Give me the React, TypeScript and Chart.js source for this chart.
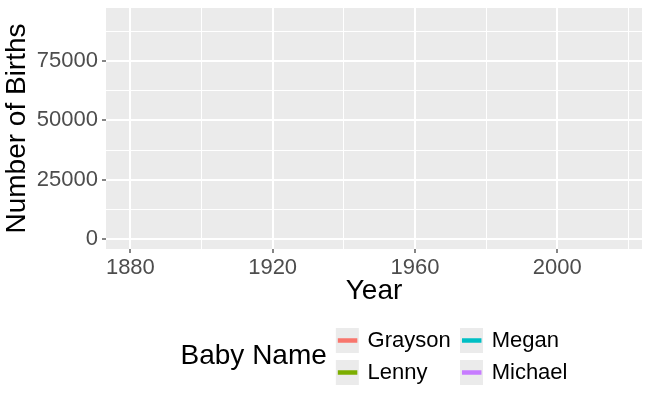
import React, { useEffect, useRef } from "react";
import { Chart, registerables } from "chart.js";

Chart.register(...registerables);

// ---- data (this frame shows no drawn lines yet) ----
const babyNames = ["Grayson", "Lenny", "Megan", "Michael"];
const nameColors = ["#F8766D", "#7CAE00", "#00BFC4", "#C77CFF"];
const graysonPoints: { x: number; y: number }[] = [];
const lennyPoints: { x: number; y: number }[] = [];
const meganPoints: { x: number; y: number }[] = [];
const michaelPoints: { x: number; y: number }[] = [];
const seriesPoints = [graysonPoints, lennyPoints, meganPoints, michaelPoints];

const xTickValues = [1880, 1900, 1920, 1940, 1960, 1980, 2000, 2020];
const xLabeledTicks = [1880, 1920, 1960, 2000];
const yTickValues = [0, 12500, 25000, 37500, 50000, 62500, 75000, 87500];
const yLabeledTicks = [0, 25000, 50000, 75000];
const xRange = [1873.15, 2023.85];
const yRange = [-4355, 97535];

const xTitle = "Year";
const yTitle = "Number of Births";
const legendTitle = "Baby Name";

const FONT = "'Liberation Sans', Arial, Helvetica, sans-serif";
const PANEL = "#EBEBEB";
const TICK_SIZE = 22;
const TITLE_SIZE = 28;

const panelBackground = {
  id: "panelBackground",
  beforeDraw(chart: any) {
    const { ctx, chartArea } = chart;
    ctx.save();
    ctx.fillStyle = PANEL;
    ctx.fillRect(chartArea.left, chartArea.top, chartArea.right - chartArea.left, chartArea.bottom - chartArea.top);
    ctx.restore();
  },
};

const ggLegend = {
  id: "ggLegend",
  afterDraw(chart: any) {
    const { ctx, chartArea } = chart;
    const datasets = chart.data.datasets;
    ctx.save();
    ctx.textBaseline = "middle";
    ctx.textAlign = "left";
    ctx.font = `${TITLE_SIZE}px ${FONT}`;
    const titleW = ctx.measureText(legendTitle).width;
    ctx.font = `${TICK_SIZE}px ${FONT}`;
    const nRows = 2;
    const cols: number[][] = [];
    for (let i = 0; i < datasets.length; i++) {
      const c = Math.floor(i / nRows);
      if (!cols[c]) cols[c] = [];
      cols[c].push(i);
    }
    const colW = cols.map((idx) => Math.max(...idx.map((i) => ctx.measureText(datasets[i].label).width)));
    const keyW = 23;
    const keyH = 25;
    const titleGap = 9;
    const keyTextGap = 8.7;
    const colGap = 9.3;
    let total = titleW + titleGap;
    colW.forEach((w, c) => {
      total += keyW + keyTextGap + w + (c < colW.length - 1 ? colGap : 0);
    });
    const centerX = (chartArea.left + chartArea.right) / 2;
    const centerY = 356.5;
    const rowStep = 32;
    let x = centerX - total / 2;
    ctx.font = `${TITLE_SIZE}px ${FONT}`;
    ctx.fillStyle = "#000000";
    ctx.fillText(legendTitle, x, centerY);
    x += titleW + titleGap;
    ctx.font = `${TICK_SIZE}px ${FONT}`;
    cols.forEach((idx, c) => {
      idx.forEach((i, r) => {
        const cy = centerY + (r - (nRows - 1) / 2) * rowStep;
        ctx.fillStyle = PANEL;
        ctx.fillRect(x, cy - keyH / 2, keyW, keyH);
        ctx.strokeStyle = datasets[i].borderColor;
        ctx.lineWidth = 4.5;
        ctx.beginPath();
        ctx.moveTo(x + 2, cy);
        ctx.lineTo(x + keyW - 1.5, cy);
        ctx.stroke();
        ctx.fillStyle = "#000000";
        ctx.fillText(datasets[i].label, x + keyW + keyTextGap, cy);
      });
      x += keyW + keyTextGap + colW[c] + colGap;
    });
    ctx.restore();
  },
};

export default function App() {
  const canvasRef = useRef<HTMLCanvasElement | null>(null);

  useEffect(() => {
    const canvas = canvasRef.current;
    if (!canvas) return;
    const chart = new Chart(canvas, {
      type: "line",
      data: {
        datasets: babyNames.map((name, i) => ({
          label: name,
          data: seriesPoints[i],
          borderColor: nameColors[i],
          backgroundColor: nameColors[i],
          borderWidth: 2,
          pointRadius: 0,
          fill: false,
        })),
      },
      options: {
        animation: false,
        responsive: false,
        devicePixelRatio: 1,
        layout: { padding: { top: 8, right: 8, left: 0, bottom: 0 } },
        plugins: {
          legend: { display: false },
          tooltip: { enabled: false },
          title: { display: false },
        },
        scales: {
          x: {
            type: "linear",
            min: xRange[0],
            max: xRange[1],
            afterBuildTicks: (scale: any) => {
              scale.ticks = xTickValues.map((v) => ({ value: v }));
            },
            afterFit: (scale: any) => {
              scale.height = 151;
              scale.paddingLeft = 0;
              scale.paddingRight = 0;
            },
            border: { display: false },
            grid: {
              color: "#FFFFFF",
              lineWidth: (c: any) => (xLabeledTicks.includes(c.tick?.value) ? 2 : 1),
              tickColor: (c: any) => (xLabeledTicks.includes(c.tick?.value) ? "#333333" : "rgba(0,0,0,0)"),
              tickWidth: 1.2,
              tickLength: 4,
              drawTicks: true,
            },
            ticks: {
              autoSkip: false,
              maxRotation: 0,
              padding: 2,
              color: "#4D4D4D",
              font: { family: FONT, size: TICK_SIZE },
              callback: (v: any) => (xLabeledTicks.includes(Number(v)) ? String(v) : ""),
            },
            title: {
              display: true,
              text: xTitle,
              color: "#000000",
              font: { family: FONT, size: TITLE_SIZE },
              padding: { top: 0, bottom: 91.7 },
            },
          },
          y: {
            type: "linear",
            min: yRange[0],
            max: yRange[1],
            afterBuildTicks: (scale: any) => {
              scale.ticks = yTickValues.map((v) => ({ value: v }));
            },
            afterFit: (scale: any) => {
              scale.width = 106;
              scale.paddingTop = 0;
              scale.paddingBottom = 0;
            },
            border: { display: false },
            grid: {
              color: "#FFFFFF",
              lineWidth: (c: any) => (yLabeledTicks.includes(c.tick?.value) ? 2 : 1),
              tickColor: (c: any) => (yLabeledTicks.includes(c.tick?.value) ? "#333333" : "rgba(0,0,0,0)"),
              tickWidth: 1.2,
              tickLength: 4,
              drawTicks: true,
            },
            ticks: {
              autoSkip: false,
              padding: 4,
              color: "#4D4D4D",
              font: { family: FONT, size: TICK_SIZE },
              callback: (v: any) => (yLabeledTicks.includes(Number(v)) ? String(v) : ""),
            },
            title: {
              display: true,
              text: yTitle,
              color: "#000000",
              font: { family: FONT, size: TITLE_SIZE },
              padding: { top: 0, bottom: 0 },
            },
          },
        },
      },
      plugins: [panelBackground, ggLegend],
    } as any);
    return () => chart.destroy();
  }, []);

  return (
    <div style={{ position: "fixed", left: 0, top: 0, width: 650, height: 400, background: "#FFFFFF" }}>
      <canvas ref={canvasRef} width={650} height={400} />
    </div>
  );
}
